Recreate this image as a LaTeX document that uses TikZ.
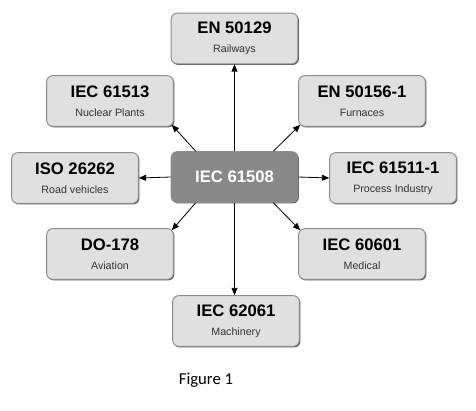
\documentclass[tikz,border=0pt]{standalone}
\usepackage{fontspec}
\setmainfont{Liberation Sans}
\newfontfamily\capfont{Carlito}
\definecolor{boxfill}{RGB}{224,224,224}
\definecolor{hubfill}{RGB}{136,136,136}
\usetikzlibrary{arrows,arrows.meta,shapes,shadows}
\tikzstyle{std}=[rectangle,rounded corners=4.5pt,draw=black!45,line width=0.7pt,fill=boxfill,
  minimum width=95pt,minimum height=38pt,inner sep=0pt,align=center,
  font=\fontsize{8}{14.25}\selectfont,text=black!80,
  drop shadow={shadow xshift=0.8pt,shadow yshift=-0.8pt,fill=black!65,opacity=1}]
\tikzstyle{hub}=[std,fill=hubfill,text=white,font=\fontsize{12.5}{14}\selectfont\bfseries]
\tikzstyle{edge} = [draw,line width=0.6pt,-{Triangle[length=5.5pt,width=4.5pt]}]
\newcommand{\ttl}[1]{{\fontsize{12.5}{14}\selectfont\bfseries\color{black}#1}}

\begin{document}
\begin{tikzpicture}[x=0.75pt,y=-0.75pt]

            \path[use as bounding box] (0,0) rectangle (476,411);

            \node[hub] (hub) at (234.5,177) {IEC 61508};

            \node[std] (rail) at (234.5,38.5) {\ttl{EN 50129}\\Railways};
            \node[std] (nuc) at (110,101) {\ttl{IEC 61513}\\Nuclear Plants};
            \node[std] (furn) at (362,101) {\ttl{EN 50156-1}\\Furnaces};
            \node[std] (road) at (75,178) {\ttl{ISO 26262}\\Road vehicles};
            \node[std] (proc) at (393,178) {\ttl{IEC 61511-1}\\Process Industry};
            \node[std] (avi) at (110,254) {\ttl{DO-178}\\Aviation};
            \node[std] (med) at (362,254) {\ttl{IEC 60601}\\Medical};
            \node[std] (mach) at (236,321) {\ttl{IEC 62061}\\Machinery};

            \path[edge] (hub.north) -- (rail.south);
            \path[edge] ([xshift=18.75pt]hub.north west) -- ([shift={(-1.5pt,1.5pt)}]nuc.south east);
            \path[edge] ([xshift=-18.75pt]hub.north east) -- ([shift={(1.5pt,1.5pt)}]furn.south west);
            \path[edge] (hub.west) -- (road.east);
            \path[edge] (hub.east) -- (proc.west);
            \path[edge] ([xshift=18.75pt]hub.south west) -- ([shift={(-1.5pt,-1.5pt)}]avi.north east);
            \path[edge] ([xshift=-18.75pt]hub.south east) -- ([shift={(1.5pt,-1.5pt)}]med.north west);
            \path[edge] (hub.south) -- (hub.south |- mach.north);

            \node[font=\capfont\fontsize{12.5}{14}\selectfont] (cap) at (206,380) {Figure 1};

\end{tikzpicture}
\end{document}
